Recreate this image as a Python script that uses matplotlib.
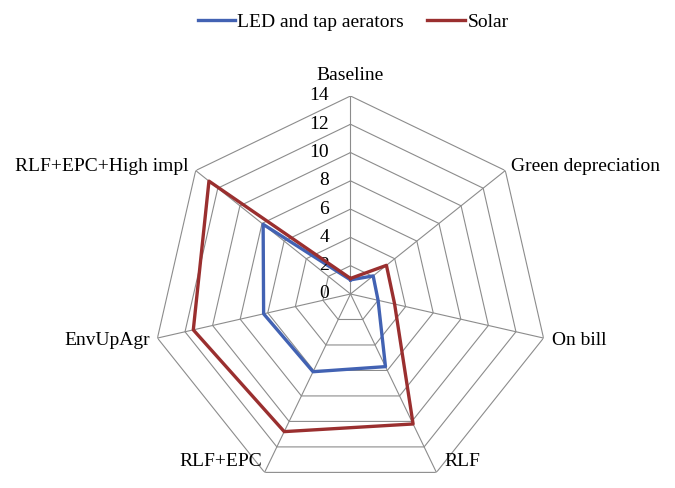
import numpy as np
import matplotlib
matplotlib.use("Agg")
import matplotlib.pyplot as plt

# ------------------------------------------
# Data
# ------------------------------------------

categories = ["Baseline", "Green depreciation", "On bill", "RLF",
              "RLF+EPC", "EnvUpAgr", "RLF+EPC+High impl"]
led_values = [1.0, 2.05, 2.0, 5.7, 6.1, 6.3, 7.9]
solar_values = [1.1, 3.25, 3.2, 10.2, 10.8, 11.4, 12.8]
rings = [0, 2, 4, 6, 8, 10, 12, 14]

plt.rcParams["font.family"] = ["Liberation Serif", "DejaVu Serif"]

n = len(categories)
angles = np.linspace(0, 2 * np.pi, n, endpoint=False)
closed = np.concatenate([angles, angles[:1]])

fig = plt.figure(figsize=(6.75, 4.88), dpi=100)
ax = fig.add_axes([0.2259, -0.0082, 0.5867, 0.8115], projection="polar")
ax.set_theta_offset(np.pi / 2)
ax.set_theta_direction(-1)
ax.set_ylim(0, 14)
ax.grid(False)
ax.spines["polar"].set_visible(False)
ax.set_xticks([])
ax.set_yticks([])

# ------------------------------------------
# Polygon grid
# ------------------------------------------

grid_color = "#8c8c8c"
for r in rings[1:]:
    ax.plot(closed, [r] * (n + 1), color=grid_color, lw=0.8, zorder=1)
for a in angles:
    ax.plot([a, a], [0, 14], color=grid_color, lw=0.8, zorder=1)

# ------------------------------------------
# Series
# ------------------------------------------

ax.plot(closed, led_values + led_values[:1], color="#4262b3", lw=2.4,
        label="LED and tap aerators", zorder=3, clip_on=False)
ax.plot(closed, solar_values + solar_values[:1], color="#9a2f2f", lw=2.4,
        label="Solar", zorder=4, clip_on=False)

# ------------------------------------------
# Labels
# ------------------------------------------

for r in rings:
    ax.annotate(str(r), xy=(0, r), xytext=(-15.5, 0), textcoords="offset points",
                ha="right", va="center", fontsize=14, annotation_clip=False)

label_offsets = [
    ((0, 15), "center"),
    ((4.3, 3), "left"),
    ((6, -1.5), "left"),
    ((6, 7.5), "left"),
    ((-2, 7.5), "right"),
    ((-5.4, -1.5), "right"),
    ((-5, 3), "right"),
]
for a, cat, (off, ha) in zip(angles, categories, label_offsets):
    ax.annotate(cat, xy=(a, 14), xytext=off, textcoords="offset points",
                ha=ha, va="center", fontsize=14, annotation_clip=False)

fig.legend(loc="center", bbox_to_anchor=(353 / 675, 1 - 22 / 488), ncol=2,
           frameon=False, fontsize=14, handlelength=1.95, handletextpad=0.1,
           columnspacing=1.2)

fig.savefig("out.png", dpi=100)
